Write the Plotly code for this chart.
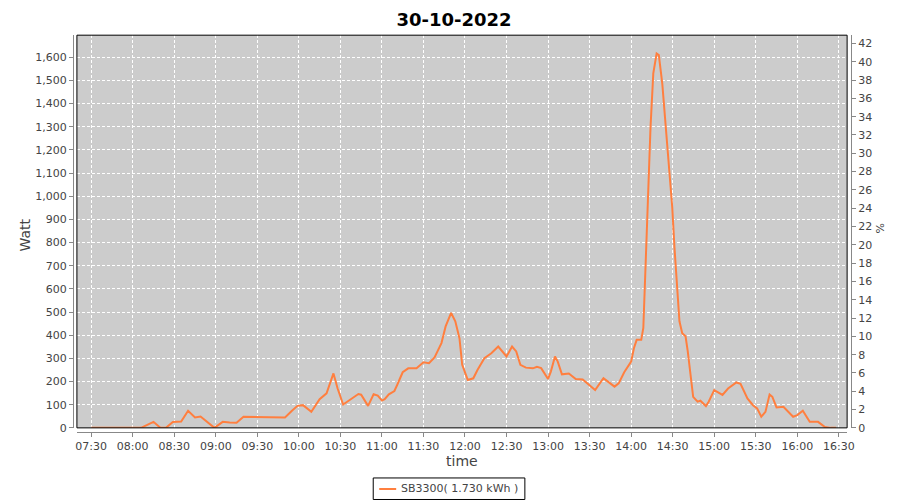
import plotly.graph_objects as go

# ---- data ----
times = ["07:30", "08:06", "08:15", "08:20", "08:24", "08:29", "08:35", "08:40", "08:45", "08:49",
         "08:59", "09:05", "09:10", "09:15", "09:20", "09:47", "09:50", "09:55", "09:59", "10:03",
         "10:09", "10:15", "10:20", "10:25", "10:28", "10:32", "10:38", "10:43", "10:45", "10:50",
         "10:54", "10:57", "11:00", "11:02", "11:05", "11:09", "11:11", "11:15", "11:19", "11:25",
         "11:30", "11:34", "11:38", "11:43", "11:46", "11:50", "11:53", "11:56", "11:58", "12:02",
         "12:06", "12:09", "12:14", "12:19", "12:24", "12:26", "12:30", "12:34", "12:37", "12:40",
         "12:44", "12:49", "12:52", "12:55", "13:00", "13:02", "13:05", "13:07", "13:10", "13:15",
         "13:20", "13:25", "13:30", "13:34", "13:40", "13:48", "13:51", "13:55", "14:00", "14:02",
         "14:04", "14:07:18", "14:08:48", "14:10:24", "14:12:06", "14:14:00", "14:16:00", "14:18:24",
         "14:20:00", "14:22:30", "14:24:54", "14:27:12", "14:29:42", "14:31:18", "14:33:18",
         "14:34:54", "14:36:54", "14:39:18", "14:40:54", "14:42:54", "14:44:48", "14:48", "14:50",
         "14:54", "14:56", "15:00", "15:06", "15:10", "15:16", "15:19", "15:24", "15:28", "15:31",
         "15:34", "15:37", "15:40", "15:42", "15:45", "15:50", "15:57", "16:00", "16:04", "16:09",
         "16:15", "16:20", "16:24", "16:28"]
watts = [0, 0, 26, 0, 0, 25, 27, 74, 45, 49,
         0, 26, 23, 22, 48, 48, 45, 74, 95, 98,
         69, 124, 149, 235, 170, 101, 127, 146, 143, 95,
         145, 139, 118, 124, 145, 159, 185, 240, 257, 257,
         283, 279, 304, 366, 438, 496, 460, 387, 272, 207,
         214, 250, 301, 322, 351, 337, 308, 351, 330, 272,
         260, 257, 264, 258, 211, 243, 308, 286, 231, 235,
         211, 209, 185, 163, 214, 178, 192, 240, 286, 344,
         380, 380, 431, 662, 980, 1298, 1530, 1616,
         1609, 1486, 1298, 1110, 951, 778, 604,
         460, 409, 395, 330, 229, 134, 113, 117,
         94, 113, 163, 142, 170, 196, 190, 127, 98, 84,
         48, 69, 144, 134, 88, 91, 48, 55, 74, 26,
         26, 4, 0, 0]
day = "2022-10-30"
series_name = "SB3300( 1.730 kWh )"
title_text = "30-10-2022"
x_range = ["2022-10-30 07:19:42", "2022-10-30 16:36:00"]
y_range = [0, 1695]
y2_range = [0, 42.9]

# Layout helpers: convert target picture pixels into paper fractions,
# allowing for the page's 8px body margin and the photographed area.
W, H = 900, 500
OFF = 8
KX, KY = 908 / 900, 508 / 500
def px(x):
    return (x * KX - OFF) / W
def py(y):
    return 1 - (y * KY - OFF) / H

x = [f"{day} {t}" if len(t) > 5 else f"{day} {t}:00" for t in times]

line_color = "#ff7f3f"
tick_font = dict(family="DejaVu Sans", size=11, color="#444444")
axis_gray = "#888888"

fig = go.Figure()
fig.add_trace(go.Scatter(x=x, y=watts, mode="lines", name=series_name,
                         line=dict(color=line_color, width=2), showlegend=False))
fig.add_trace(go.Scatter(x=[], y=[], yaxis="y2", mode="lines", showlegend=False,
                         hoverinfo="skip"))

x0, x1 = px(75), px(847)
y0, y1 = py(427), py(35)

fig.update_layout(
    width=W, height=H,
    margin=dict(l=0, r=0, t=0, b=0),
    paper_bgcolor="white",
    plot_bgcolor="#cccccc",
    showlegend=False,
    title=dict(text=f"<b>{title_text}</b>", x=px(450), xanchor="center",
               y=py(19), yanchor="middle",
               font=dict(family="DejaVu Sans", size=18, color="#000000")),
    xaxis=dict(
        type="date", domain=[x0, x1], range=x_range,
        anchor="free", position=py(431),
        tick0="2022-10-30 07:30:00", dtick=30 * 60 * 1000, tickformat="%H:%M",
        showgrid=True, gridcolor="white", griddash="3px,2px", gridwidth=1,
        showline=True, linecolor=axis_gray, linewidth=1,
        ticks="outside", ticklen=4, tickcolor=axis_gray,
        tickfont=tick_font, zeroline=False,
    ),
    yaxis=dict(
        domain=[y0, y1], range=y_range,
        anchor="free", position=px(71),
        tick0=0, dtick=100, tickformat=",d",
        showgrid=True, gridcolor="white", griddash="3px,2px", gridwidth=1,
        showline=True, linecolor=axis_gray, linewidth=1,
        ticks="outside", ticklen=4, tickcolor=axis_gray,
        tickfont=tick_font, zeroline=False,
    ),
    yaxis2=dict(
        overlaying="y", side="right", range=y2_range,
        anchor="free", position=px(851),
        tick0=0, dtick=2, showgrid=False, zeroline=False,
        showline=True, linecolor=axis_gray, linewidth=1,
        ticks="outside", ticklen=4, tickcolor=axis_gray,
        tickfont=dict(family="DejaVu Sans", size=11, color="#444444"),
    ),
    shapes=[
        dict(type="rect", xref="paper", yref="paper", x0=x0, x1=x1, y0=y0, y1=y1,
             line=dict(color="black", width=1), fillcolor="rgba(0,0,0,0)", layer="above"),
        dict(type="rect", xref="paper", yref="paper", x0=px(372), x1=px(524),
             y0=py(498.5), y1=py(477), line=dict(color="black", width=1),
             fillcolor="white"),
        dict(type="line", xref="paper", yref="paper", x0=px(378), x1=px(395),
             y0=py(488), y1=py(488), line=dict(color=line_color, width=2)),
    ],
    annotations=[
        dict(text="Watt", xref="paper", yref="paper", x=px(22), y=py(235),
             showarrow=False, textangle=-90, xanchor="center", yanchor="middle",
             font=dict(family="DejaVu Sans", size=14, color="#444444")),
        dict(text="time", xref="paper", yref="paper", x=px(461), y=py(460),
             showarrow=False, xanchor="center", yanchor="middle",
             font=dict(family="DejaVu Sans", size=14, color="#444444")),
        dict(text="%", xref="paper", yref="paper", x=px(880), y=py(228),
             showarrow=False, textangle=-90, xanchor="center", yanchor="middle",
             font=dict(family="DejaVu Sans", size=11, color="#444444")),
        dict(text=series_name, xref="paper", yref="paper", x=px(398), y=py(488),
             showarrow=False, xanchor="left", yanchor="middle",
             font=dict(family="DejaVu Sans", size=11, color="#444444")),
    ],
)

fig.write_html("out.html", config={"displayModeBar": False, "responsive": False})
